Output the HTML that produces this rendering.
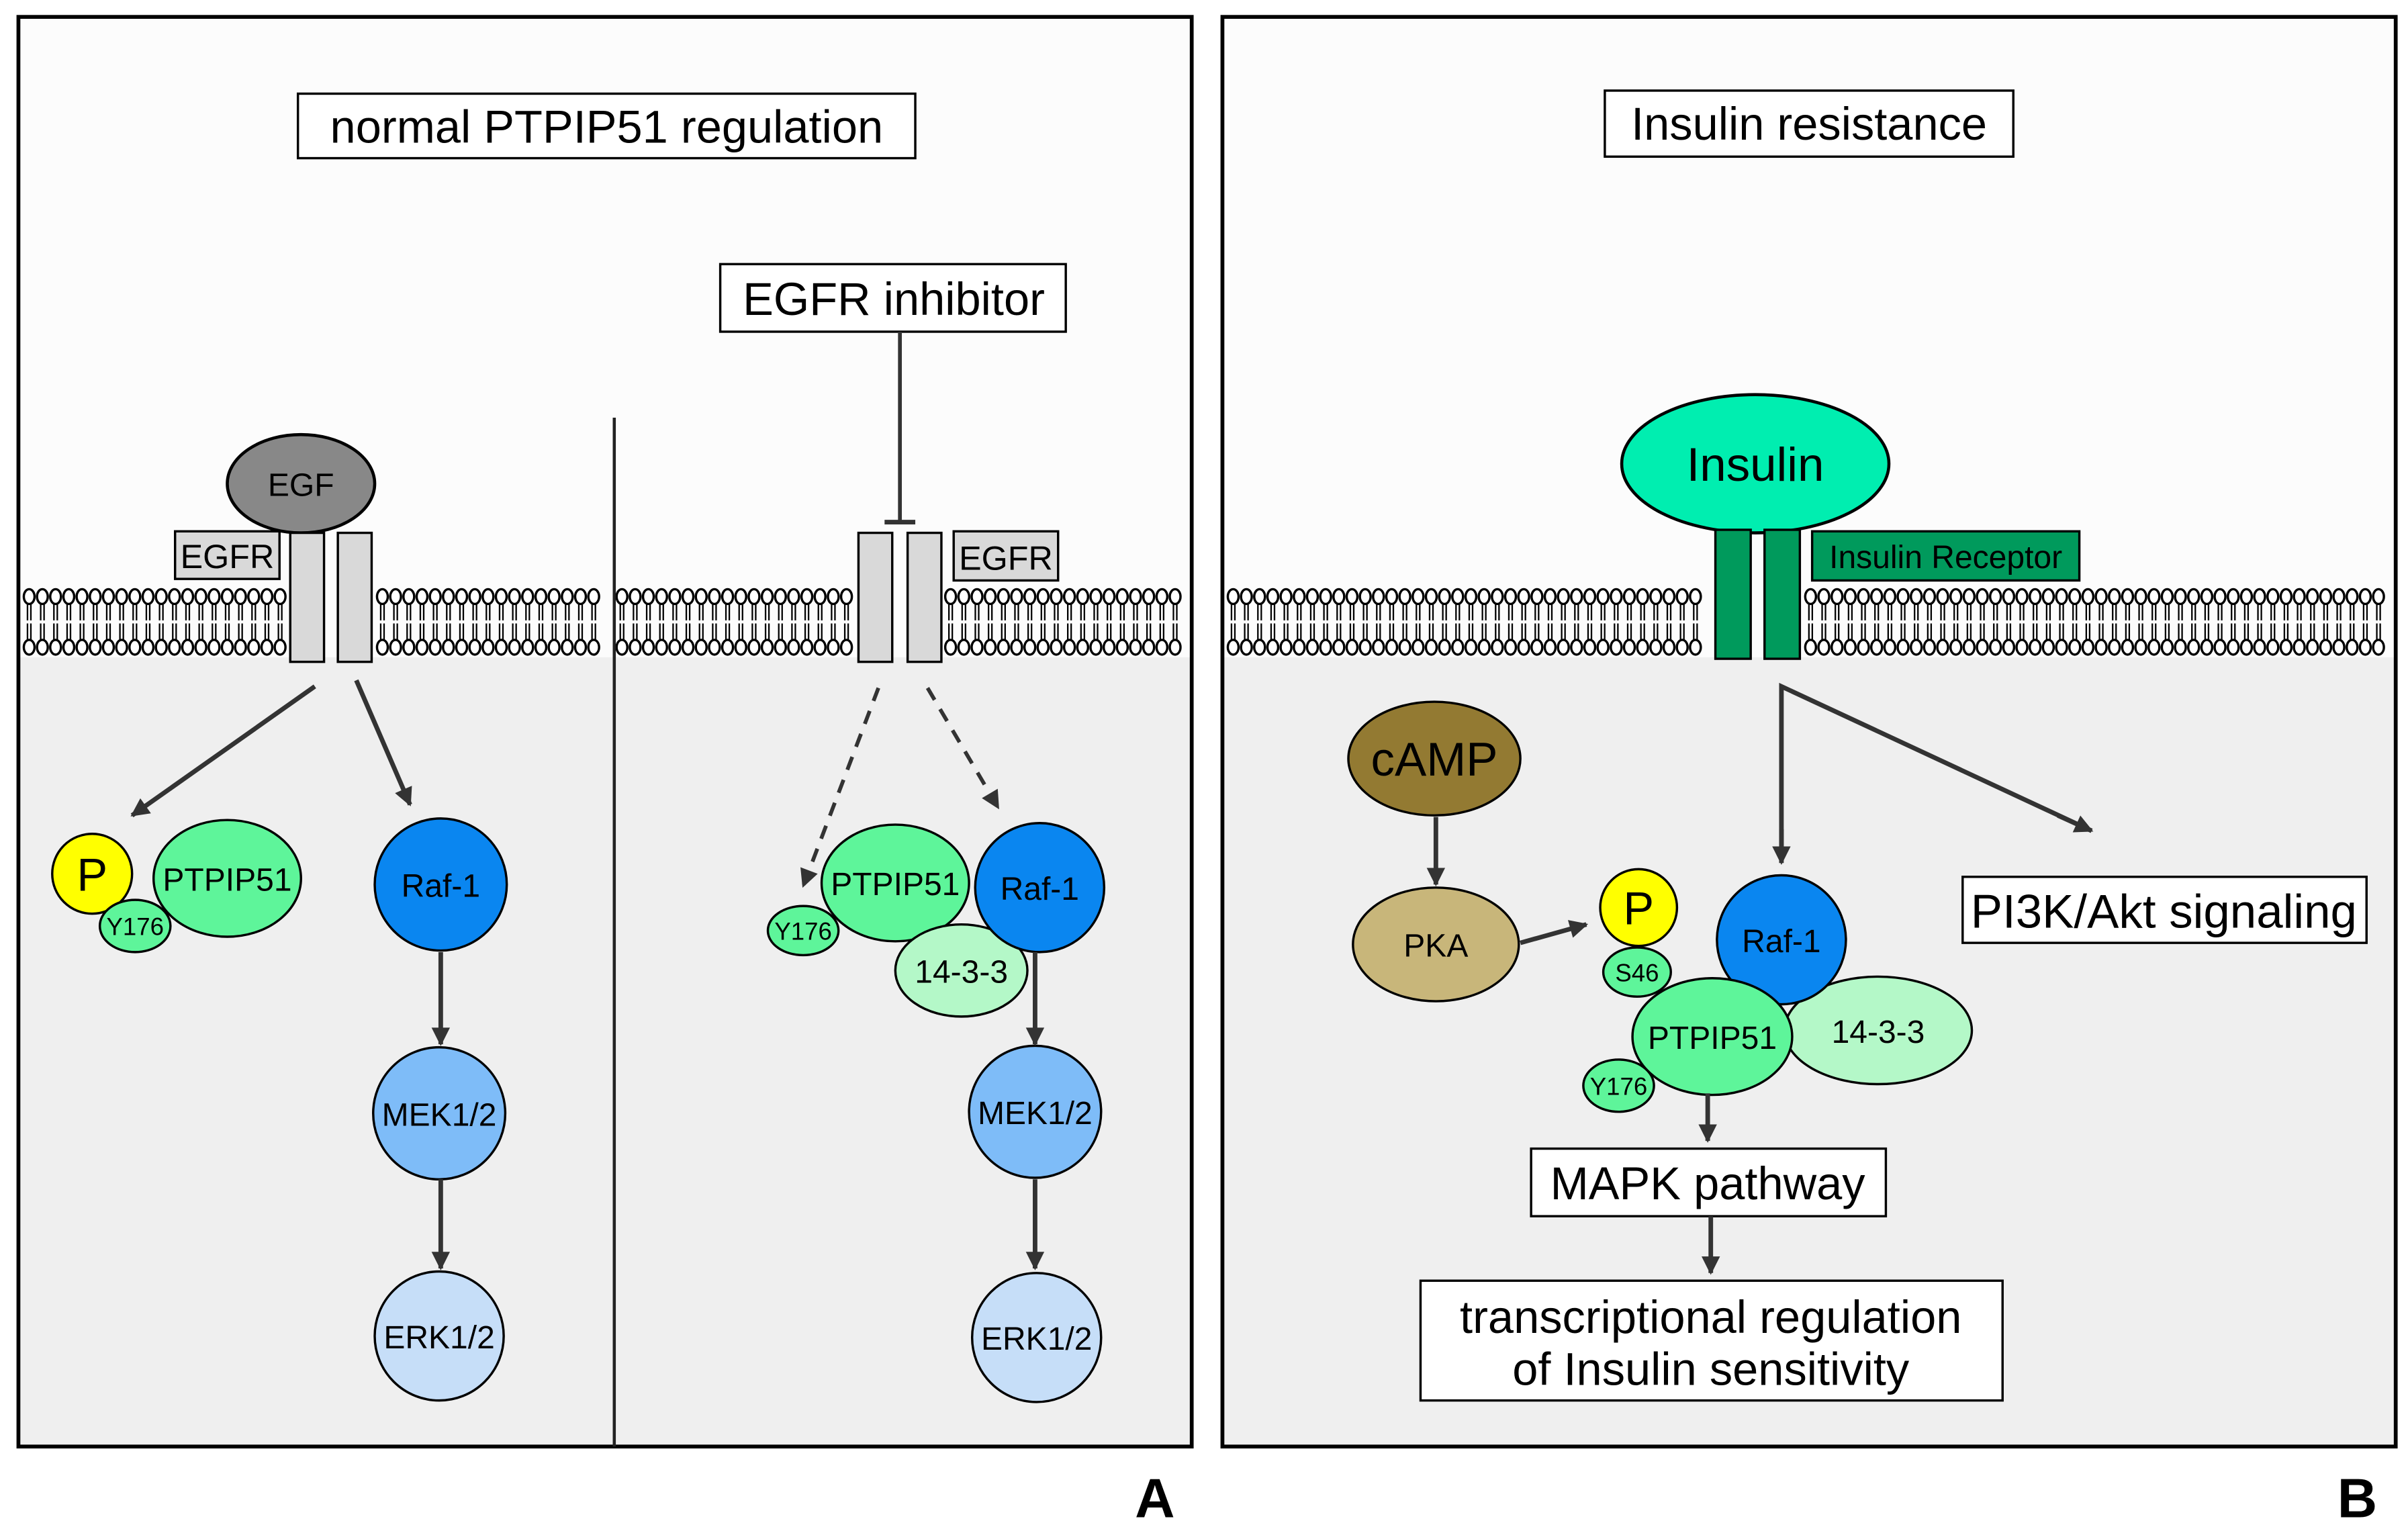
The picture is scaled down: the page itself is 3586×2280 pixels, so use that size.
<!DOCTYPE html>
<html><head><meta charset="utf-8"><style>html,body{margin:0;padding:0;background:#fff}svg{display:block}text{font-family:"Liberation Sans",sans-serif}</style></head><body>
<svg id="s" width="3586" height="2280" viewBox="0 0 1568 997" preserveAspectRatio="none" xmlns="http://www.w3.org/2000/svg">
<defs>
<g id="lp">
<line x1="-1.1" y1="392" x2="-1.1" y2="404" stroke="#000" stroke-width="1"/><line x1="1.1" y1="392" x2="1.1" y2="404" stroke="#000" stroke-width="1"/>
<line x1="-1.1" y1="406" x2="-1.1" y2="418" stroke="#000" stroke-width="1"/><line x1="1.1" y1="406" x2="1.1" y2="418" stroke="#000" stroke-width="1"/>
<ellipse cx="0" cy="388.5" rx="3.5" ry="4.8" fill="#fff" stroke="#000" stroke-width="1.5"/>
<ellipse cx="0" cy="421.5" rx="3.5" ry="4.8" fill="#fff" stroke="#000" stroke-width="1.5"/>
</g>
<marker id="ar2" viewBox="0 0 10 10" refX="9" refY="5" markerWidth="16" markerHeight="12" orient="auto" markerUnits="userSpaceOnUse"><path d="M0,0 L10,5 L0,10 z" fill="#333"/></marker>
</defs>
<rect x="12" y="11" width="764" height="931" fill="#fcfcfc"/>
<rect x="12" y="428" width="764" height="514" fill="#efefef"/>
<rect x="796" y="11" width="764" height="931" fill="#fcfcfc"/>
<rect x="796" y="428" width="764" height="514" fill="#efefef"/>
<rect x="12" y="11" width="764" height="931" fill="none" stroke="#000" stroke-width="2.5"/>
<rect x="796" y="11" width="764" height="931" fill="none" stroke="#000" stroke-width="2.5"/>
<g id="mem"></g>
<line x1="400" y1="272" x2="400" y2="942" stroke="#222" stroke-width="2"/>
<g font-size="30" text-anchor="middle">
<rect x="194" y="61" width="402" height="42" fill="#fff" stroke="#000" stroke-width="1.5"/><text x="395" y="93">normal PTPIP51 regulation</text>
<rect x="469" y="172" width="225" height="44" fill="#fff" stroke="#000" stroke-width="1.5"/><text x="582" y="205">EGFR inhibitor</text>
<rect x="1045" y="59" width="266" height="43" fill="#fff" stroke="#000" stroke-width="1.5"/><text x="1178" y="91">Insulin resistance</text>
<rect x="997" y="748" width="231" height="44" fill="#fff" stroke="#000" stroke-width="1.5"/><text x="1112" y="781">MAPK pathway</text>
<rect x="1278" y="571" width="263" height="43" fill="#fff" stroke="#000" stroke-width="1.5"/><text x="1409" y="604" font-size="31">PI3K/Akt signaling</text>
<rect x="925" y="834" width="379" height="78" fill="#fff" stroke="#000" stroke-width="1.5"/><text x="1114" y="868">transcriptional regulation</text><text x="1114" y="902">of Insulin sensitivity</text>
</g>
<ellipse cx="196" cy="315" rx="48" ry="32" fill="#888" stroke="#000" stroke-width="2"/>
<rect x="114" y="346" width="68" height="31" fill="#d9d9d9" stroke="#000" stroke-width="1.5"/>
<rect x="189" y="347" width="22" height="84" fill="#d9d9d9" stroke="#000" stroke-width="1.5"/>
<rect x="220" y="347" width="22" height="84" fill="#d9d9d9" stroke="#000" stroke-width="1.5"/>
<line x1="205" y1="447" x2="86" y2="531" stroke="#333" stroke-width="3" marker-end="url(#ar2)"/>
<line x1="232" y1="443" x2="267" y2="524" stroke="#333" stroke-width="3" marker-end="url(#ar2)"/>
<ellipse cx="148" cy="572" rx="48" ry="38" fill="#5ef59a" stroke="#000" stroke-width="1.5"/>
<circle cx="60" cy="569" r="26" fill="#ffff00" stroke="#000" stroke-width="1.5"/>
<ellipse cx="88" cy="603" rx="23" ry="17" fill="#5ef59a" stroke="#000" stroke-width="1.5"/>
<circle cx="287" cy="576" r="43" fill="#0a86f0" stroke="#000" stroke-width="1.5"/>
<circle cx="286" cy="725" r="43" fill="#7ebcf8" stroke="#000" stroke-width="1.5"/>
<circle cx="286" cy="870" r="42" fill="#c6def8" stroke="#000" stroke-width="1.5"/>
<line x1="287" y1="620" x2="287" y2="680" stroke="#333" stroke-width="3" marker-end="url(#ar2)"/>
<line x1="287" y1="768" x2="287" y2="826" stroke="#333" stroke-width="3" marker-end="url(#ar2)"/>
<line x1="586" y1="216" x2="586" y2="340" stroke="#333" stroke-width="2.5"/><line x1="576" y1="340" x2="596" y2="340" stroke="#333" stroke-width="3"/>
<rect x="559" y="347" width="22" height="84" fill="#d9d9d9" stroke="#000" stroke-width="1.5"/>
<rect x="591" y="347" width="22" height="84" fill="#d9d9d9" stroke="#000" stroke-width="1.5"/>
<rect x="621" y="346" width="68" height="32" fill="#d9d9d9" stroke="#000" stroke-width="1.5"/>
<line x1="572" y1="448" x2="523" y2="577" stroke="#333" stroke-width="2.5" stroke-dasharray="9,7" marker-end="url(#ar2)"/>
<line x1="604" y1="448" x2="650" y2="526" stroke="#333" stroke-width="2.5" stroke-dasharray="9,7" marker-end="url(#ar2)"/>
<ellipse cx="583" cy="575" rx="48" ry="38" fill="#5ef59a" stroke="#000" stroke-width="1.5"/>
<ellipse cx="523" cy="606" rx="23" ry="16" fill="#5ef59a" stroke="#000" stroke-width="1.5"/>
<ellipse cx="626" cy="632" rx="43" ry="30" fill="#b4f8c8" stroke="#000" stroke-width="1.5"/>
<circle cx="677" cy="578" r="42" fill="#0a86f0" stroke="#000" stroke-width="1.5"/>
<circle cx="674" cy="724" r="43" fill="#7ebcf8" stroke="#000" stroke-width="1.5"/>
<circle cx="675" cy="871" r="42" fill="#c6def8" stroke="#000" stroke-width="1.5"/>
<line x1="674" y1="620" x2="674" y2="680" stroke="#333" stroke-width="3" marker-end="url(#ar2)"/>
<line x1="674" y1="768" x2="674" y2="826" stroke="#333" stroke-width="3" marker-end="url(#ar2)"/>
<ellipse cx="1143" cy="302" rx="87" ry="45" fill="#00eeb0" stroke="#000" stroke-width="2"/>
<rect x="1117" y="345" width="23" height="84" fill="#009a5c" stroke="#000" stroke-width="1.5"/>
<rect x="1149" y="345" width="23" height="84" fill="#009a5c" stroke="#000" stroke-width="1.5"/>
<rect x="1180" y="346" width="174" height="32" fill="#009a5c" stroke="#000" stroke-width="1.5"/>
<polyline points="1160,560 1160,447 1362,541" fill="none" stroke="#333" stroke-width="3"/>
<line x1="1160" y1="540" x2="1160" y2="562" stroke="#333" stroke-width="3" marker-end="url(#ar2)"/>
<line x1="1340" y1="531" x2="1362" y2="541" stroke="#333" stroke-width="3" marker-end="url(#ar2)"/>
<ellipse cx="934" cy="494" rx="56" ry="37" fill="#937a32" stroke="#000" stroke-width="1.5"/>
<line x1="935" y1="532" x2="935" y2="576" stroke="#333" stroke-width="3" marker-end="url(#ar2)"/>
<ellipse cx="935" cy="615" rx="54" ry="37" fill="#c8b67a" stroke="#000" stroke-width="1.5"/>
<line x1="990" y1="614" x2="1033" y2="602" stroke="#333" stroke-width="3" marker-end="url(#ar2)"/>
<ellipse cx="1223" cy="671" rx="61" ry="35" fill="#b4f8c8" stroke="#000" stroke-width="1.5"/>
<circle cx="1160" cy="612" r="42" fill="#0a86f0" stroke="#000" stroke-width="1.5"/>
<circle cx="1067" cy="591" r="25" fill="#ffff00" stroke="#000" stroke-width="1.5"/>
<ellipse cx="1066" cy="633" rx="22" ry="16" fill="#5ef59a" stroke="#000" stroke-width="1.5"/>
<ellipse cx="1115" cy="675" rx="52" ry="38" fill="#5ef59a" stroke="#000" stroke-width="1.5"/>
<ellipse cx="1054" cy="707" rx="23" ry="17" fill="#5ef59a" stroke="#000" stroke-width="1.5"/>
<line x1="1112" y1="712" x2="1112" y2="743" stroke="#333" stroke-width="3" marker-end="url(#ar2)"/>
<line x1="1114" y1="792" x2="1114" y2="829" stroke="#333" stroke-width="3" marker-end="url(#ar2)"/>
<g text-anchor="middle" font-size="21">
<text x="196" y="323">EGF</text>
<text x="148" y="370" font-size="22">EGFR</text>
<text x="655" y="371" font-size="22">EGFR</text>
<text x="148" y="580">PTPIP51</text>
<text x="287" y="584">Raf-1</text>
<text x="286" y="733">MEK1/2</text>
<text x="286" y="878">ERK1/2</text>
<text x="583" y="583">PTPIP51</text>
<text x="626" y="640">14-3-3</text>
<text x="677" y="586">Raf-1</text>
<text x="674" y="732">MEK1/2</text>
<text x="675" y="879">ERK1/2</text>
<text x="935" y="623">PKA</text>
<text x="1160" y="620">Raf-1</text>
<text x="1223" y="679">14-3-3</text>
<text x="1115" y="683">PTPIP51</text>
<text x="1267" y="370">Insulin Receptor</text>
</g>
<g text-anchor="middle" font-size="16">
<text x="88" y="609">Y176</text><text x="523" y="612">Y176</text><text x="1066" y="639">S46</text><text x="1054" y="713">Y176</text>
</g>
<text x="60" y="580" text-anchor="middle" font-size="30">P</text>
<text x="1067" y="602" text-anchor="middle" font-size="30">P</text>
<text x="1143" y="313" text-anchor="middle" font-size="31">Insulin</text>
<text x="934" y="505" text-anchor="middle" font-size="31">cAMP</text>
<text x="752" y="988" text-anchor="middle" font-size="36" font-weight="bold">A</text>
<text x="1535" y="988" text-anchor="middle" font-size="36" font-weight="bold">B</text>
</svg>
<script>
(function(){var g=document.getElementById('mem'),ns='http://www.w3.org/2000/svg';
var segs=[[19,186],[249,398],[405,556],[619,773],[803,1114],[1179,1558]];
segs.forEach(function(s){for(var x=s[0];x<=s[1]-3;x+=8.6){var u=document.createElementNS(ns,'use');u.setAttribute('href','#lp');u.setAttribute('transform','translate('+x.toFixed(1)+',0)');g.appendChild(u);}});})();
</script>
</body></html>
